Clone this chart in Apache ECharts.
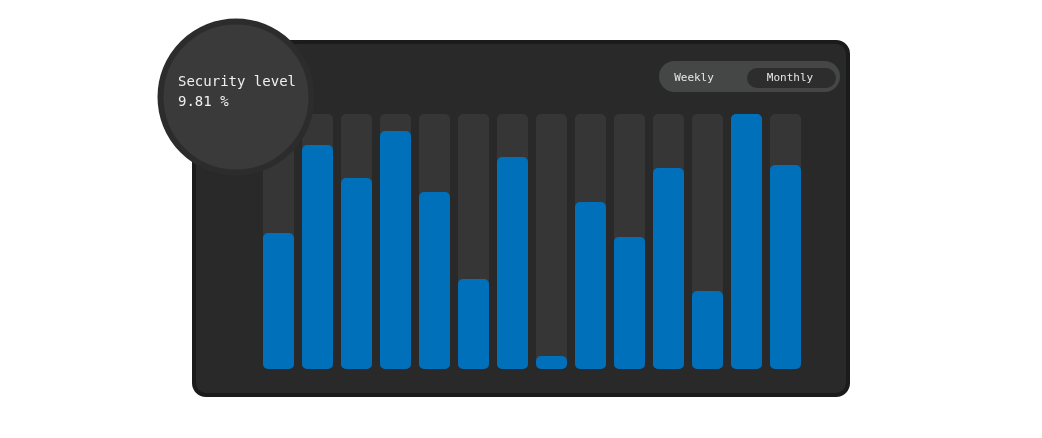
<!DOCTYPE html>
<html>
<head>
<meta charset="utf-8">
<script src="https://cdn.jsdelivr.net/npm/echarts@6/dist/echarts.min.js"></script>
<style>
html,body{margin:0;padding:0;background:#fff;}
#chart{width:1042px;height:438px;}
</style>
</head>
<body>
<div id="chart"></div>
<script>
var categories = ['1','2','3','4','5','6','7','8','9','10','11','12','13','14'];
var values = [53.3, 87.8, 74.9, 93.3, 69.4, 35.3, 83.1, 5.1, 65.5, 51.8, 78.8, 30.6, 100, 80];
var titleText = 'Security level';
var valueText = '9.81 %';
var toggleLabels = ['Weekly', 'Monthly'];

var FONT = '"DejaVu Sans Mono", monospace';
var chart = echarts.init(document.getElementById('chart'));
chart.setOption({
  backgroundColor: '#ffffff',
  animation: false,
  grid: {left: 259, top: 114, width: 546, height: 255, containLabel: false},
  xAxis: {type: 'category', data: categories, show: false},
  yAxis: {type: 'value', min: 0, max: 100, show: false},
  series: [{
    type: 'bar',
    data: values,
    barWidth: 31,
    showBackground: true,
    backgroundStyle: {color: '#363636', borderRadius: [5, 5, 5, 5]},
    itemStyle: {color: '#0070bb', borderRadius: [5, 5, 5, 5]},
    z: 5
  }],
  graphic: [
    {type: 'rect', z: -10, shape: {x: 194, y: 42, width: 654, height: 353, r: 12},
     style: {fill: '#292929', stroke: '#1b1b1b', lineWidth: 4}},
    {type: 'rect', z: 10, shape: {x: 659, y: 61, width: 181, height: 31, r: 15.5},
     style: {fill: '#454747'}},
    {type: 'rect', z: 11, shape: {x: 747, y: 68, width: 89, height: 20, r: 10},
     style: {fill: '#2d2d2d'}},
    {type: 'text', z: 12, style: {x: 694, y: 78, text: toggleLabels[0], fill: '#e6e6e6', font: '11px ' + FONT, align: 'center', verticalAlign: 'middle'}},
    {type: 'text', z: 12, style: {x: 790, y: 78, text: toggleLabels[1], fill: '#e6e6e6', font: '11px ' + FONT, align: 'center', verticalAlign: 'middle'}},
    {type: 'circle', z: 100, shape: {cx: 236, cy: 97, r: 75.5},
     style: {fill: '#3a3a3a', stroke: '#2c2c2c', lineWidth: 6}},
    {type: 'text', z: 101, style: {x: 178, y: 82, text: titleText, fill: '#f0f0f0', font: '14px ' + FONT, verticalAlign: 'middle'}},
    {type: 'text', z: 101, style: {x: 178, y: 102, text: valueText, fill: '#f0f0f0', font: '14px ' + FONT, verticalAlign: 'middle'}}
  ]
});
</script>
</body>
</html>
